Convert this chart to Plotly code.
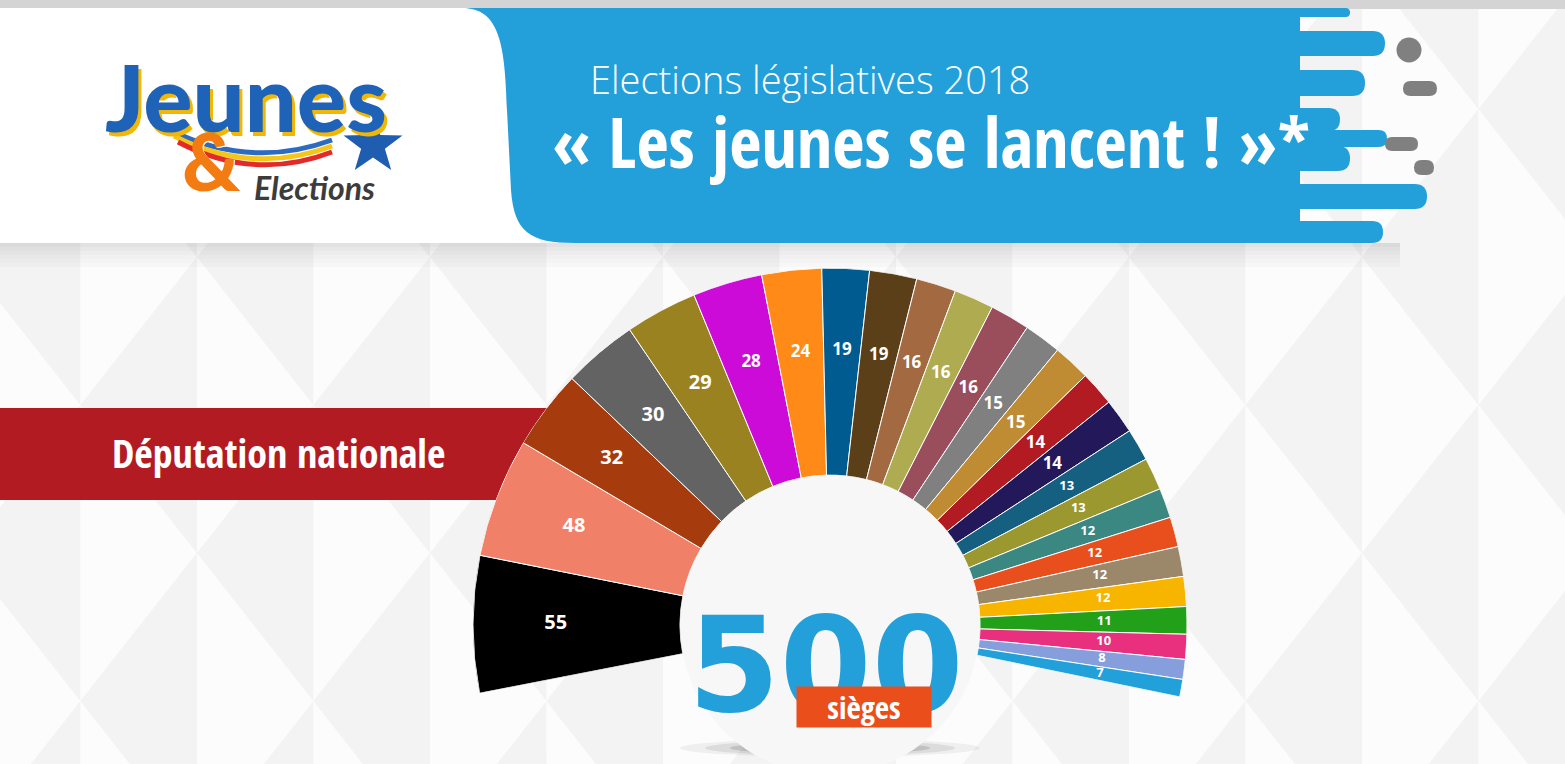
import math
import plotly.graph_objects as go

W, H = 1565, 764

# ---------------- data ----------------
seats = [55, 48, 32, 30, 29, 28, 24, 19, 19, 16, 16, 16, 15, 15, 14, 14,
         13, 13, 12, 12, 12, 12, 11, 10, 8, 7]
party_colors = ["#000000", "#F08068", "#A63C0E", "#636363", "#9A8220", "#CC0BD9",
                "#FF8A17", "#005B90", "#5A3F18", "#A36A41", "#AFAB50", "#9A4E5B",
                "#808080", "#C08C33", "#B31B23", "#23185A", "#155F80", "#9A982F",
                "#3B8782", "#E94F1C", "#9B886A", "#F7B500", "#23A01A", "#E8307F",
                "#879EDD", "#22A0DA"]
seat_labels = [str(s) for s in seats]
total_label = "500"
unit_label = "sièges"
banner_label = "Députation nationale"
title_small = "Elections législatives 2018"
title_big = "« Les jeunes se lancent ! »*"

# ---------------- helpers (pixel -> paper) ----------------
def X(x):
    return x / W

def Y(y):
    return 1 - y / H

def path(cmds):
    out = []
    for c in cmds:
        op = c[0]
        nums = c[1:]
        pts = [f"{X(nums[i]):.5f},{Y(nums[i+1]):.5f}" for i in range(0, len(nums), 2)]
        out.append(op + " " + " ".join(pts))
    return " ".join(out)

shapes = []

def add_path(cmds, fill, layer="below", line_color=None, line_width=0, opacity=1):
    shapes.append(dict(type="path", xref="paper", yref="paper", layer=layer,
                       path=path(cmds), fillcolor=fill, opacity=opacity,
                       line=dict(width=line_width, color=line_color or fill)))

def add_rect(x0, y0, x1, y1, fill, layer="below", opacity=1):
    shapes.append(dict(type="rect", xref="paper", yref="paper", layer=layer,
                       x0=X(x0), x1=X(x1), y0=Y(y1), y1=Y(y0),
                       fillcolor=fill, opacity=opacity, line=dict(width=0)))

def add_ellipse(cx, cy, rx, ry, fill, layer="below", opacity=1):
    shapes.append(dict(type="circle", xref="paper", yref="paper", layer=layer,
                       x0=X(cx - rx), x1=X(cx + rx), y0=Y(cy + ry), y1=Y(cy - ry),
                       fillcolor=fill, opacity=opacity, line=dict(width=0)))

def pill_right(x0, x1, y0, y1):
    r = (y1 - y0) / 2
    return [("M", x0, y0), ("L", x1 - r, y0), ("Q", x1, y0, x1, y0 + r),
            ("Q", x1, y1, x1 - r, y1), ("L", x0, y1), ("Z",)]

def pill(x0, x1, y0, y1):
    r = (y1 - y0) / 2
    return [("M", x0 + r, y0), ("L", x1 - r, y0), ("Q", x1, y0, x1, y0 + r),
            ("Q", x1, y1, x1 - r, y1), ("L", x0 + r, y1),
            ("Q", x0, y1, x0, y0 + r), ("Q", x0, y0, x0 + r, y0), ("Z",)]

# ---------------- background diamonds ----------------
hw, hh = 116.5, 148
for m in range(-13, 3):
    for n in range(-3, 4):
        if (m + n) % 2:
            continue
        cx, cy = 1362 + hw * m, 405 + hh * n
        add_path([("M", cx, cy - hh), ("L", cx - hw, cy), ("L", cx, cy + hh), ("Z",)], "#F3F3F3")
        add_path([("M", cx, cy - hh), ("L", cx + hw, cy), ("L", cx, cy + hh), ("Z",)], "#FCFCFC")

# ---------------- header ----------------
add_rect(0, 0, W, 9, "#D4D4D4")
for i, op in enumerate([0.10, 0.08, 0.06, 0.045, 0.03, 0.02]):
    add_rect(0, 243 + i * 4, 1400, 247 + i * 4, "#000000", opacity=op)
add_rect(0, 8, 540, 243, "#FFFFFF")

blue = "#239FDA"
add_path([("M", 462, 8), ("C", 500, 8, 505, 45, 507, 110), ("L", 511, 190),
          ("C", 514, 232, 530, 243, 575, 243), ("L", 1300, 243), ("L", 1300, 8), ("Z",)], blue)
for (y0, y1, xe) in [(8, 17, 1350), (31, 56, 1385), (70, 96, 1365), (108, 131, 1340),
                     (130, 147, 1387), (146, 171, 1350), (184, 209, 1427), (221, 243, 1383)]:
    add_path(pill_right(1290, xe, y0, y1), blue)
add_ellipse(1409, 50, 12.5, 12.5, "#808080")
add_path(pill(1403, 1437, 81, 96), "#808080")
add_path(pill(1385, 1418, 137, 151), "#808080")
add_path(pill(1414, 1434, 160, 175), "#808080")

# logo decorations (stripes + star)
add_path([("M", 170, 130), ("Q", 250, 170, 332, 140)], "rgba(0,0,0,0)", line_color="#2C6BC0", line_width=5)
add_path([("M", 174, 136), ("Q", 252, 176, 332, 146)], "rgba(0,0,0,0)", line_color="#F5C518", line_width=5)
add_path([("M", 178, 142), ("Q", 254, 182, 332, 152)], "rgba(0,0,0,0)", line_color="#E32A2A", line_width=5)
star = []
scx, scy = 373, 145
for k in range(10):
    ang = math.radians(90 + 36 * k)
    rr = 31 if k % 2 == 0 else 12.5
    star.append(("M" if k == 0 else "L", scx + rr * math.cos(ang), scy - rr * math.sin(ang)))
star.append(("Z",))
add_path(star, "#1E5DB0")

# red banner
add_rect(0, 408, 560, 500, "#B31B23")

# inner disc + soft shadow under it
for i, (rx, op) in enumerate([(150, 0.05), (125, 0.08), (100, 0.12), (75, 0.16)]):
    add_ellipse(830, 748, rx, 9 - i * 1.5, "#000000", opacity=op)
add_ellipse(830, 625, 150, 150, "#F7F7F7")

# ---------------- fan chart ----------------
span = 191 + 11.6
scale = span / sum(seats)
theta_c, widths = [], []
acc = 0
for s in seats:
    widths.append(s * scale)
    theta_c.append(acc + s * scale / 2)
    acc += s * scale

fig = go.Figure()
fig.add_trace(go.Barpolar(
    r=[1] * len(seats), theta=theta_c, width=widths,
    marker=dict(color=party_colors, line=dict(color="#FFFFFF", width=1)),
    hovertext=seat_labels, hoverinfo="text", showlegend=False))

label_sizes = [20 if s >= 29 else 17 if s >= 14 else 13 for s in seats]
fig.add_trace(go.Scatterpolar(
    r=[0.6] * len(seats), theta=theta_c, mode="text", text=seat_labels,
    textfont=dict(family="Open Sans", size=label_sizes, color="#FFFFFF", weight="bold"),
    hoverinfo="skip", showlegend=False))

fig.update_layout(
    width=W, height=H, margin=dict(l=0, r=0, t=0, b=0),
    paper_bgcolor="#F8F8F8", plot_bgcolor="rgba(0,0,0,0)",
    polar=dict(
        domain=dict(x=[473 / W, 1187 / W], y=[1 - 697 / H, 1 - 268 / H]),
        sector=[-11.6, 191], hole=150 / 357, bgcolor="rgba(0,0,0,0)",
        radialaxis=dict(visible=False, range=[0, 1]),
        angularaxis=dict(visible=False, rotation=191, direction="clockwise",
                         thetaunit="degrees", showgrid=False),
    ),
    shapes=shapes,
)

cond = ("Noto Sans ExtraCondensed, Noto Sans Condensed, Open Sans Condensed, "
        "Roboto Condensed, Liberation Sans Narrow, DejaVu Sans Condensed, Roboto, sans-serif")

def note(x, y, text, font, **kw):
    d = dict(x=X(x), y=Y(y), xref="paper", yref="paper", text=text, showarrow=False,
             xanchor="center", yanchor="middle", font=font)
    d.update(kw)
    return d

ann = [
    note(810, 79, title_small, dict(family="Open Sans", weight=300, size=38, color="#FFFFFF")),
    note(931, 141, title_big, dict(family=cond, weight="bold", size=70, color="#FFFFFF")),
    note(278, 453, banner_label, dict(family=cond, weight="bold", size=40, color="#FFFFFF")),
    note(246, 96, "Jeunes", dict(family="Lato", weight=900, size=92, color="#1F63B8",
                                 shadow="-2px -2px 0 #FFFFFF, 3px 4px 0 #F2B705")),
    note(212, 160, "&", dict(family="Lato", weight=900, size=80, color="#F27B12",
                             shadow="1px 1px 0 #FFFFFF")),
    note(314, 187, "<i>Elections</i>", dict(family="Lato", weight="bold", size=32, color="#3C3C3C")),
    note(826, 665, total_label, dict(family="DejaVu Sans", weight="bold", size=132, color="#23A0DA")),
    note(864, 707, unit_label, dict(family=cond, weight="bold", size=31, color="#FFFFFF"),
         width=134, height=40, bgcolor="#E94E1B", borderpad=0),
]
fig.update_layout(annotations=ann)

fig.write_html("out.html", config={"displayModeBar": False},
               post_script="document.body.style.margin='0';document.body.style.overflow='hidden';")
